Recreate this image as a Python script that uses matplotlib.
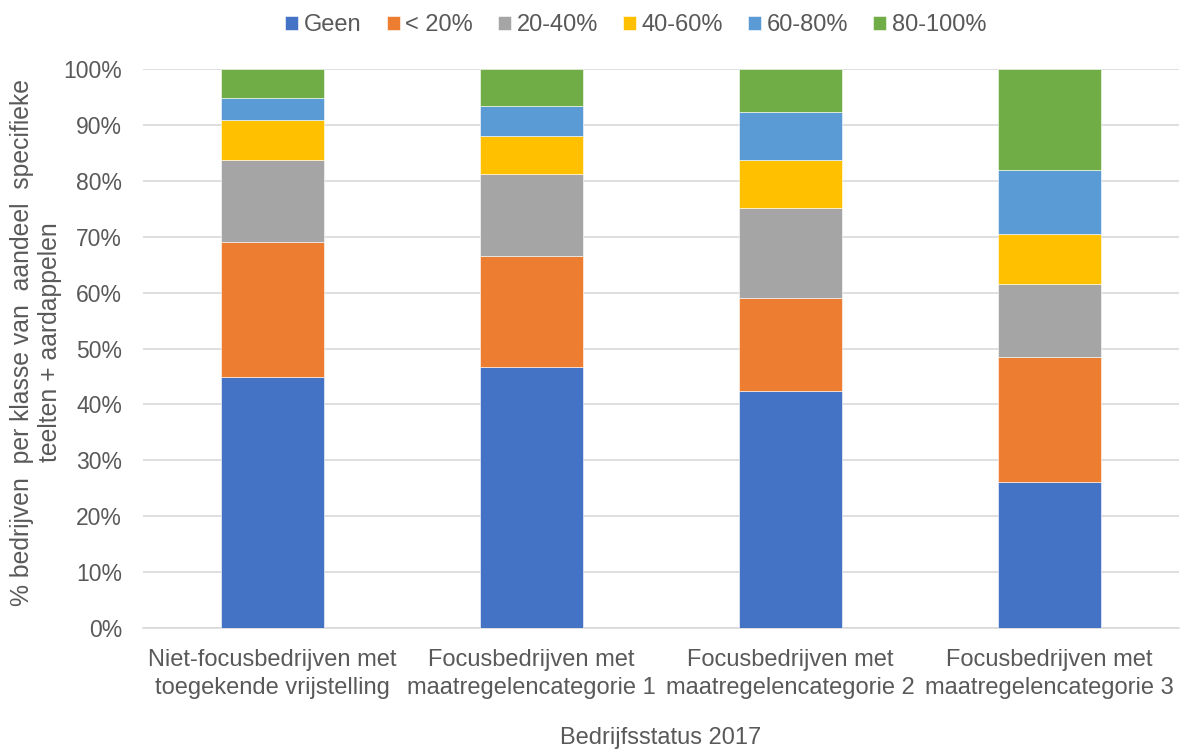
import numpy as np
import matplotlib.pyplot as plt

plt.rcParams['font.family'] = ['Liberation Sans', 'DejaVu Sans']

categories = ["Niet-focusbedrijven met\ntoegekende vrijstelling",
              "Focusbedrijven met\nmaatregelencategorie 1",
              "Focusbedrijven met\nmaatregelencategorie 2",
              "Focusbedrijven met\nmaatregelencategorie 3"]
classes = ["Geen", "< 20%", "20-40%", "40-60%", "60-80%", "80-100%"]
colors = ["#4472C4", "#ED7D31", "#A5A5A5", "#FFC000", "#5B9BD5", "#70AD47"]

geen = [44.9, 46.7, 42.4, 26.1]
lt20 = [24.1, 19.8, 16.6, 22.4]
p20_40 = [14.7, 14.7, 16.1, 13.0]
p40_60 = [7.2, 6.8, 8.6, 9.0]
p60_80 = [3.9, 5.4, 8.6, 11.4]
p80_100 = [5.2, 6.6, 7.7, 18.1]
series = [geen, lt20, p20_40, p40_60, p60_80, p80_100]

txt = "#595959"
fig = plt.figure(figsize=(11.82, 7.49), dpi=100)
ax = fig.add_axes([0.121, 0.1615, 0.8765, 0.7464])

x = np.arange(len(categories))
bottom = np.zeros(len(categories))
for name, vals, c in zip(classes, series, colors):
    ax.bar(x, vals, 0.4, bottom=bottom, color=c, label=name,
           edgecolor="white", linewidth=0.4, zorder=3)
    bottom += np.array(vals)

ax.set_xlim(-0.5, 3.5)
ax.set_ylim(0, 100)
ax.set_yticks(np.arange(0, 101, 10))
ax.set_yticklabels([f"{v}%" for v in range(0, 101, 10)])
ax.set_xticks(x)
ax.set_xticklabels(categories, fontsize=17, linespacing=1.35)
ax.grid(axis="y", color="#D9D9D9", linewidth=1.2, zorder=0)
for s in ["top", "right", "left"]:
    ax.spines[s].set_visible(False)
ax.spines["bottom"].set_color("#D9D9D9")
ax.spines["bottom"].set_linewidth(1.2)
ax.tick_params(axis="both", length=0, labelsize=16.5, colors=txt)
ax.tick_params(axis="x", pad=15, labelsize=17)
ax.tick_params(axis="y", pad=15)

ax.set_xlabel("Bedrijfsstatus 2017", fontsize=17, color=txt, labelpad=20)

# y label as two separate lines, positioned like the original
fig.text(22 / 1182, 1 - 342 / 749, "% bedrijven  per klasse van  aandeel  specifieke",
         rotation=90, ha="center", va="center", fontsize=17.8, color=txt)
fig.text(50 / 1182, 1 - 342 / 749, "teelten + aardappelen",
         rotation=90, ha="center", va="center", fontsize=17.8, color=txt)

ax.legend(loc="center", bbox_to_anchor=(636 / 1182, 1 - 25 / 749),
          bbox_transform=fig.transFigure, ncol=6, frameon=False,
          fontsize=17, handlelength=0.55, handleheight=0.55, handletextpad=0.25,
          columnspacing=1.05, labelcolor=txt)

fig.savefig("out.png", dpi=100)
